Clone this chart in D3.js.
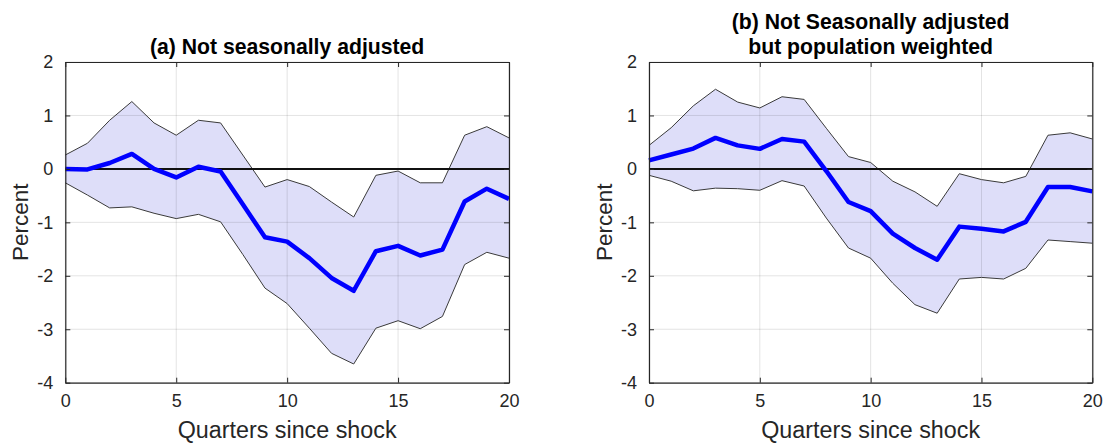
<!DOCTYPE html>
<html>
<head>
<meta charset="utf-8">
<script src="https://cdn.jsdelivr.net/npm/d3@7"></script>
<style>
  html, body { margin: 0; padding: 0; background: #fff; }
  svg { display: block; font-family: "Liberation Sans", Arial, Helvetica, sans-serif; }
</style>
</head>
<body>
<svg id="chart" width="1108" height="443"></svg>
<script>
// Horizon (quarters since shock)
const quarters = [0, 1, 2, 3, 4, 5, 6, 7, 8, 9, 10, 11, 12, 13, 14, 15, 16, 17, 18, 19, 20];

// (a) Not seasonally adjusted: point estimate and confidence band
const irfA   = [0.00, -0.01, 0.11, 0.28, 0.00, -0.16, 0.04, -0.05, -0.66, -1.28, -1.36, -1.67, -2.04, -2.28, -1.54, -1.44, -1.62, -1.51, -0.61, -0.37, -0.56];
const upperA = [0.26, 0.48, 0.91, 1.26, 0.86, 0.63, 0.91, 0.86, 0.26, -0.34, -0.20, -0.33, -0.62, -0.90, -0.12, -0.04, -0.26, -0.26, 0.63, 0.79, 0.58];
const lowerA = [-0.26, -0.49, -0.73, -0.71, -0.83, -0.93, -0.85, -0.99, -1.60, -2.23, -2.52, -2.98, -3.45, -3.65, -2.98, -2.84, -2.99, -2.76, -1.79, -1.56, -1.67];

// (b) Not seasonally adjusted but population weighted
const irfB   = [0.16, 0.27, 0.38, 0.58, 0.44, 0.375, 0.56, 0.51, -0.04, -0.62, -0.79, -1.21, -1.48, -1.70, -1.08, -1.12, -1.17, -0.99, -0.34, -0.34, -0.42];
const upperB = [0.44, 0.77, 1.18, 1.49, 1.25, 1.14, 1.35, 1.30, 0.76, 0.23, 0.12, -0.23, -0.43, -0.70, -0.09, -0.20, -0.26, -0.14, 0.63, 0.675, 0.56];
const lowerB = [-0.12, -0.23, -0.41, -0.36, -0.37, -0.40, -0.22, -0.32, -0.92, -1.48, -1.67, -2.14, -2.54, -2.70, -2.06, -2.03, -2.06, -1.86, -1.33, -1.36, -1.39];

// Axis ticks and labels
const xTicks = [0, 5, 10, 15, 20];
const yTicks = [-4, -3, -2, -1, 0, 1, 2];
const titleA = ["(a) Not seasonally adjusted"];
const titleB = ["(b) Not Seasonally adjusted", "but population weighted"];
const xLabel = "Quarters since shock";
const yLabel = "Percent";

const svg = d3.select("#chart");

function panel(cfg) {
  const { left, right, top, bottom, irf, upper, lower, title } = cfg;
  const x = d3.scaleLinear().domain([0, 20]).range([left, right]);
  const y = d3.scaleLinear().domain([-4, 2]).range([bottom, top]);
  const g = svg.append("g");

  const rows = quarters.map((q, i) => ({ q, m: irf[i], hi: upper[i], lo: lower[i] }));

  // confidence band
  g.append("path")
    .datum(rows)
    .attr("d", d3.area().x(d => x(d.q)).y0(d => y(d.lo)).y1(d => y(d.hi)))
    .attr("fill", "#dedef9");

  // grid
  g.selectAll(".gx").data(xTicks).join("line")
    .attr("x1", d => x(d)).attr("x2", d => x(d))
    .attr("y1", top).attr("y2", bottom)
    .attr("stroke", "rgba(0,0,0,0.11)").attr("stroke-width", 1);
  g.selectAll(".gy").data(yTicks).join("line")
    .attr("x1", left).attr("x2", right)
    .attr("y1", d => y(d)).attr("y2", d => y(d))
    .attr("stroke", "rgba(0,0,0,0.11)").attr("stroke-width", 1);

  // band edges
  [upper, lower].forEach(arr => {
    g.append("path")
      .datum(arr)
      .attr("d", d3.line().x((d, i) => x(quarters[i])).y(d => y(d)))
      .attr("fill", "none")
      .attr("stroke", "#3a3a3a")
      .attr("stroke-width", 1);
  });

  // zero line
  g.append("line")
    .attr("x1", x(0)).attr("x2", x(20))
    .attr("y1", y(0)).attr("y2", y(0))
    .attr("stroke", "#111").attr("stroke-width", 2);

  // impulse response
  g.append("path")
    .datum(irf)
    .attr("d", d3.line().x((d, i) => x(quarters[i])).y(d => y(d)))
    .attr("fill", "none")
    .attr("stroke", "#0000ff")
    .attr("stroke-width", 4.5)
    .attr("stroke-linejoin", "round");

  // axes with inward ticks on all sides
  const axisColor = "#262626";
  const styleAxis = sel => {
    sel.select(".domain").attr("stroke", axisColor).attr("stroke-width", 1.2);
    sel.selectAll(".tick line").attr("stroke", axisColor);
    sel.selectAll(".tick text").attr("fill", "#262626").style("font-size", "18px")
      .style("font-family", "Liberation Sans, Arial, sans-serif");
  };
  g.append("g").attr("transform", `translate(0,${bottom})`)
    .call(d3.axisBottom(x).tickValues(xTicks).tickSizeInner(-5).tickSizeOuter(0).tickPadding(12))
    .call(styleAxis);
  g.append("g").attr("transform", `translate(0,${top})`)
    .call(d3.axisTop(x).tickValues(xTicks).tickSizeInner(-5).tickSizeOuter(0).tickFormat(""))
    .call(styleAxis);
  g.append("g").attr("transform", `translate(${left},0)`)
    .call(d3.axisLeft(y).tickValues(yTicks).tickSizeInner(-5).tickSizeOuter(0).tickPadding(12)
      .tickFormat(d => d < 0 ? "-" + Math.abs(d) : d))
    .call(styleAxis);
  g.append("g").attr("transform", `translate(${right},0)`)
    .call(d3.axisRight(y).tickValues(yTicks).tickSizeInner(-5).tickSizeOuter(0).tickFormat(""))
    .call(styleAxis);

  // titles
  const cx = (left + right) / 2;
  const lastBase = 54;
  title.forEach((t, i) => {
    g.append("text")
      .attr("x", cx).attr("y", lastBase - (title.length - 1 - i) * 25)
      .attr("text-anchor", "middle")
      .style("font-size", "21.2px").style("font-weight", "bold")
      .attr("fill", "#000")
      .text(t);
  });

  // axis labels
  g.append("text")
    .attr("x", cx).attr("y", 438)
    .attr("text-anchor", "middle")
    .style("font-size", "23.3px").attr("fill", "#262626")
    .text(xLabel);
  g.append("text")
    .attr("transform", `translate(${left - 37},${(top + bottom) / 2}) rotate(-90)`)
    .attr("text-anchor", "middle")
    .style("font-size", "22.5px").attr("fill", "#262626")
    .text(yLabel);
}

panel({ left: 65.3, right: 509, top: 62, bottom: 382.7, irf: irfA, upper: upperA, lower: lowerA, title: titleA });
panel({ left: 649, right: 1092.3, top: 62, bottom: 382.7, irf: irfB, upper: upperB, lower: lowerB, title: titleB });
</script>
</body>
</html>
